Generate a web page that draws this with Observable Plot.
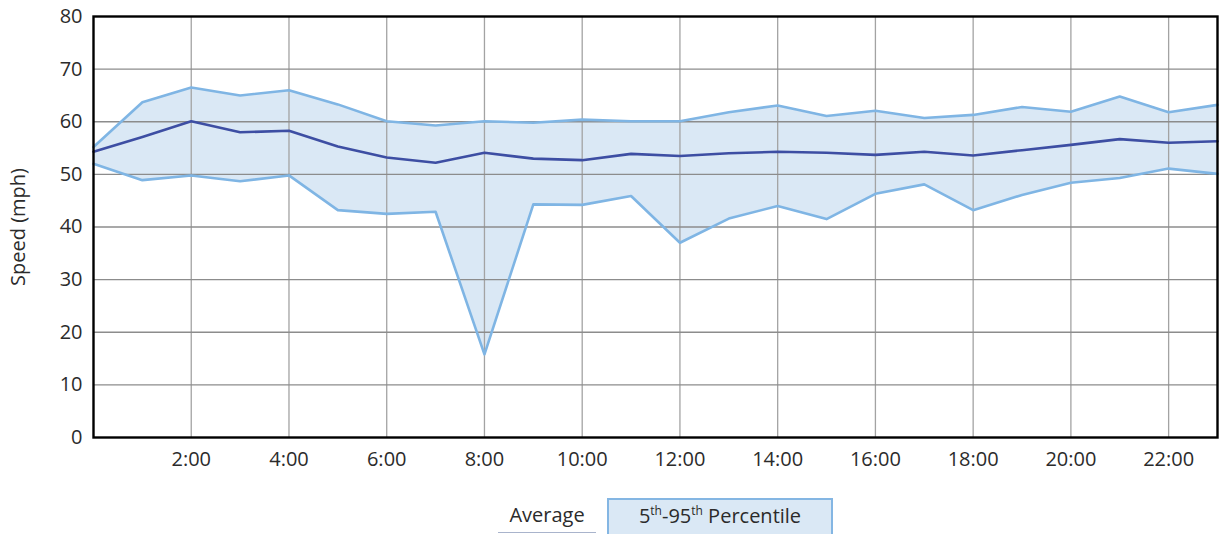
<!DOCTYPE html>
<html>
<head>
<meta charset="utf-8">
<script src="https://cdn.jsdelivr.net/npm/d3@7"></script>
<script src="https://cdn.jsdelivr.net/npm/@observablehq/plot@0.6"></script>
<style>
  html, body { margin: 0; padding: 0; background: #fff; }
  body { width: 1223px; height: 534px; position: relative; overflow: hidden; font-family: "Open Sans", sans-serif; color: #2b2b2b; }
  #chart { position: absolute; left: 0; top: 0; }
  .legend { position: absolute; top: 498px; left: 0; width: 1223px; height: 36px; font-size: 20px; }
  .avg { position: absolute; left: 496px; top: 3px; width: 102px; text-align: center; }
  .avg-line { position: absolute; left: 498px; top: 34px; width: 98px; height: 0; border-top: 1.5px solid #a9b4cc; }
  .pct { position: absolute; left: 607px; top: 0; width: 226px; height: 40px; box-sizing: border-box; background: #dae8f5; border: 2px solid #84b6e3; text-align: center; padding-top: 2px; }
  .pct sup { font-size: 12px; vertical-align: 8px; line-height: 0; }
</style>
</head>
<body>
<div id="chart"></div>
<div class="legend">
  <div class="avg">Average</div>
  <div class="avg-line"></div>
  <div class="pct">5<sup>th</sup>-95<sup>th</sup> Percentile</div>
</div>
<script>
const hours = [0,1,2,3,4,5,6,7,8,9,10,11,12,13,14,15,16,17,18,19,20,21,22,23];
const average = [54.3,57.1,60.1,58.0,58.3,55.3,53.2,52.2,54.1,53.0,52.7,53.9,53.5,54.0,54.3,54.1,53.7,54.3,53.6,54.6,55.6,56.7,56.0,56.3];
const p95 = [55.2,63.7,66.5,65.0,66.0,63.3,60.1,59.3,60.1,59.8,60.4,60.1,60.1,61.8,63.1,61.1,62.1,60.7,61.3,62.8,61.9,64.8,61.8,63.2];
const p5 = [52.0,48.9,49.8,48.7,49.8,43.2,42.5,42.9,15.8,44.3,44.2,45.9,37.0,41.6,44.0,41.5,46.3,48.1,43.2,46.1,48.4,49.3,51.1,50.1];
const xTicks = [2,4,6,8,10,12,14,16,18,20,22];
const yTicks = [0,10,20,30,40,50,60,70,80];

const data = hours.map((h, i) => ({hour: h, avg: average[i], hi: p95[i], lo: p5[i]}));

const chart = Plot.plot({
  width: 1223,
  height: 480,
  marginLeft: 93,
  marginRight: 6,
  marginTop: 16,
  marginBottom: 43,
  style: {fontFamily: "Open Sans, sans-serif", fontSize: "20px", color: "#2b2b2b", background: "#fff"},
  x: {domain: [0, 23], ticks: xTicks, tickFormat: d => d + ":00", tickSize: 0, tickPadding: 14, label: null},
  y: {domain: [0, 80], ticks: yTicks, tickSize: 0, tickPadding: 11, label: null},
  marks: [
    Plot.areaY(data, {x: "hour", y1: "lo", y2: "hi", fill: "#dae8f5"}),
    Plot.ruleX(xTicks, {stroke: "#a3a3a3", strokeWidth: 1.3}),
    Plot.ruleY(yTicks.filter(d => d > 0 && d < 80), {stroke: "#8c8c8c", strokeWidth: 1.3}),
    Plot.line(data, {x: "hour", y: "hi", stroke: "#7fb5e4", strokeWidth: 2.6}),
    Plot.line(data, {x: "hour", y: "lo", stroke: "#7fb5e4", strokeWidth: 2.6}),
    Plot.line(data, {x: "hour", y: "avg", stroke: "#3d4ea3", strokeWidth: 2.6}),
    Plot.frame({stroke: "#000", strokeWidth: 2.4}),
    Plot.axisX({ticks: xTicks, tickFormat: d => d + ":00", tickSize: 0, tickPadding: 14, fontSize: 20, fill: "#2b2b2b"}),
    Plot.axisY({ticks: yTicks, tickSize: 0, tickPadding: 11, fontSize: 20, fill: "#2b2b2b", label: null}),
    Plot.text(["Speed (mph)"], {frameAnchor: "left", textAnchor: "middle", dx: -75, rotate: -90, fontSize: 20, fill: "#2b2b2b"})
  ]
});
document.getElementById("chart").appendChild(chart);
</script>
</body>
</html>
